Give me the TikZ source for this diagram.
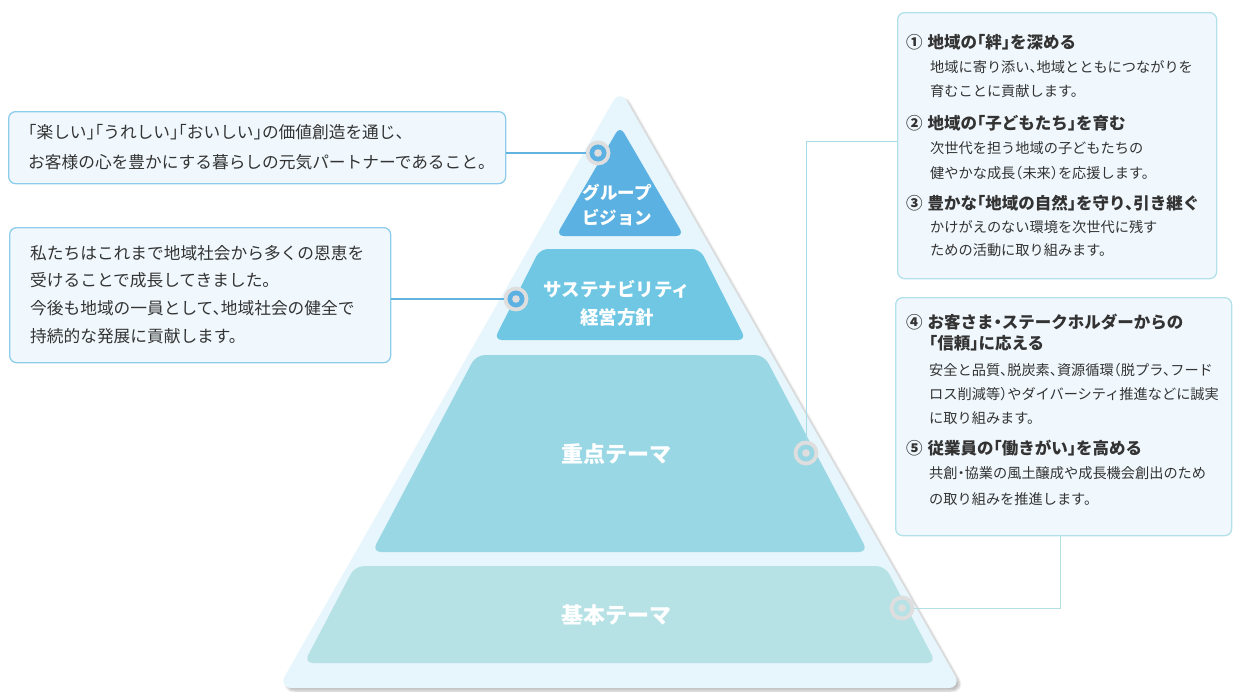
\documentclass[tikz,border=0pt]{standalone}
\usepackage{fontspec}
\setmainfont{Noto Sans CJK JP}[RawFeature=+halt]
\usetikzlibrary{shadows.blur}

\definecolor{pyrbg}{HTML}{E7F5FC}
\definecolor{tierA}{HTML}{5BB1E2}
\definecolor{tierB}{HTML}{70C7E3}
\definecolor{tierC}{HTML}{9AD7E4}
\definecolor{tierD}{HTML}{B7E2E5}
\definecolor{boxfill}{HTML}{F0F8FD}
\definecolor{boxlineA}{HTML}{8DCDEB}
\definecolor{boxlineB}{HTML}{B2E1EA}
\definecolor{lineA}{HTML}{62B4E0}
\definecolor{lineC}{HTML}{A5DCE8}
\definecolor{lineD}{HTML}{B2E0E3}
\definecolor{ringgray}{HTML}{DEDEDE}
\definecolor{txtgray}{HTML}{333333}

\tikzset{
  tierlabel/.style={text=white, font=\bfseries, align=center, inner sep=0pt},
  infobox/.style={draw, fill=boxfill, rounded corners=7pt, line width=1.3pt, inner sep=0pt, anchor=north west},
  bodytxt/.style={text=txtgray, anchor=west, align=left, inner sep=0pt},
  headtxt/.style={text=txtgray, anchor=west, inner sep=0pt, font=\fontsize{16.5}{21}\selectfont\bfseries},
  subtxt/.style={text=txtgray, anchor=west, align=left, inner sep=0pt},
  ring/.style={circle, draw=ringgray, line width=3.8pt, minimum size=21pt, inner sep=0pt},
}

\begin{document}
\begin{tikzpicture}[x=1pt,y=1pt,yscale=-1,xscale=1]
    \useasboundingbox (0,0) rectangle (1233,691);

    %Shape: outer pyramid
    \path [fill=pyrbg, rounded corners=14pt, blur shadow={shadow xshift=3pt, shadow yshift=-3pt, shadow blur steps=8, shadow opacity=25}] (620,89) -- (962,688) -- (278,688) -- cycle ;
    %Shape: tiers
    \fill [tierA, rounded corners=8pt] (620,126) -- (684,236) -- (556,236) -- cycle ;
    \fill [tierB, rounded corners=8pt] (540,249) -- (700,249) -- (746,340) -- (494,340) -- cycle ;
    \fill [tierC, rounded corners=9pt] (476,355) -- (764,355) -- (868,552) -- (372,552) -- cycle ;
    \fill [tierD, rounded corners=9pt] (355,566) -- (885,566) -- (936,663) -- (304,663) -- cycle ;

    % Tier labels
    \node [tierlabel, font=\fontsize{17.5}{25}\selectfont\bfseries] (vision) at (617,205.5) {グループ\\ビジョン};
    \node [tierlabel, font=\fontsize{18.5}{28}\selectfont\bfseries] (policy) at (617,303) {サステナビリティ\\経営方針};
    \node [tierlabel, font=\fontsize{22}{25}\selectfont\bfseries] (focus) at (616,454) {重点テーマ};
    \node [tierlabel, font=\fontsize{22}{25}\selectfont\bfseries] (basic) at (616,615) {基本テーマ};

    % Boxes
    \node [infobox, draw=boxlineA, minimum width=497pt, minimum height=72pt] (visionbox) at (8,111) {};
    \node [infobox, draw=boxlineA, minimum width=381pt, minimum height=135pt] (policybox) at (9,227) {};
    \node [infobox, draw=boxlineB, minimum width=319pt, minimum height=266pt] (focusbox) at (897,12) {};
    \node [infobox, draw=boxlineB, minimum width=336pt, minimum height=238pt] (basicbox) at (895,297) {};

    % Markers
    \node [ring, fill=tierA] (visionmark) at (598,153) {};
    \node [ring, fill=tierA] (policymark) at (516,299) {};
    \node [ring, fill=tierC] (focusmark) at (806,453) {};
    \node [ring, fill=tierD] (basicmark) at (902,608) {};
    \foreach \m in {visionmark,policymark,focusmark,basicmark}
      \fill [ringgray] (\m.center) circle (3.8pt);

    % Connectors
    \draw [lineA, line width=1.3pt] (visionmark.west) -- (visionmark -| visionbox.east);
    \draw [lineA, line width=1.3pt] (policymark.west) -- (policymark -| policybox.east);
    \draw [lineC, line width=1pt] (focusmark.north) |- ([yshift=-4pt]focusbox.west);
    \draw [lineD, line width=1pt] (basicmark.east) -| ([xshift=-3pt]basicbox.south);

    % Text Node: vision
    \node [bodytxt, font=\fontsize{16.7}{30}\selectfont] (visiontxt) at (28,147) {「楽しい」「うれしい」「おいしい」の価値創造を通じ、\\お客様の心を豊かにする暮らしの元気パートナーであること。};
    % Text Node: policy
    \node [bodytxt, font=\fontsize{16.7}{27.7}\selectfont] (policytxt) at (30,294.5) {私たちはこれまで地域社会から多くの恩恵を\\受けることで成長してきました。\\今後も地域の一員として、地域社会の健全で\\持続的な発展に貢献します。};

    % Text Node: focus themes
    \node [headtxt] (head1) at (906,42) {①\hspace{5pt}地域の「絆」を深める};
    \node [subtxt, font=\fontsize{14.2}{24}\selectfont] (sub1) at (930,79) {地域に寄り添い、地域とともにつながりを\\育むことに貢献します。};
    \node [headtxt] (head2) at (906,123) {②\hspace{5pt}地域の「子どもたち」を育む};
    \node [subtxt, font=\fontsize{14.2}{25}\selectfont] (sub2) at (930,160.5) {次世代を担う地域の子どもたちの\\健やかな成長（未来）を応援します。};
    \node [headtxt] (head3) at (906,203) {③\hspace{5pt}豊かな「地域の自然」を守り、引き継ぐ};
    \node [subtxt, font=\fontsize{14.2}{23}\selectfont] (sub3) at (930,239) {かけがえのない環境を次世代に残す\\ための活動に取り組みます。};

    % Text Node: basic themes
    \node [headtxt] (head4) at (906,322) {④\hspace{5pt}お客さま・ステークホルダーからの};
    \node [headtxt] (head4b) at (929,343) {「信頼」に応える};
    \node [subtxt, font=\fontsize{14.2}{24}\selectfont] (sub4) at (929,394) {安全と品質、脱炭素、資源循環（脱プラ、フード\\ロス削減等）やダイバーシティ推進などに誠実\\に取り組みます。};
    \node [headtxt] (head5) at (906,448) {⑤\hspace{5pt}従業員の「働きがい」を高める};
    \node [subtxt, font=\fontsize{14.2}{26}\selectfont] (sub5) at (929,486.5) {共創・協業の風土醸成や成長機会創出のため\\の取り組みを推進します。};

\end{tikzpicture}
\end{document}
